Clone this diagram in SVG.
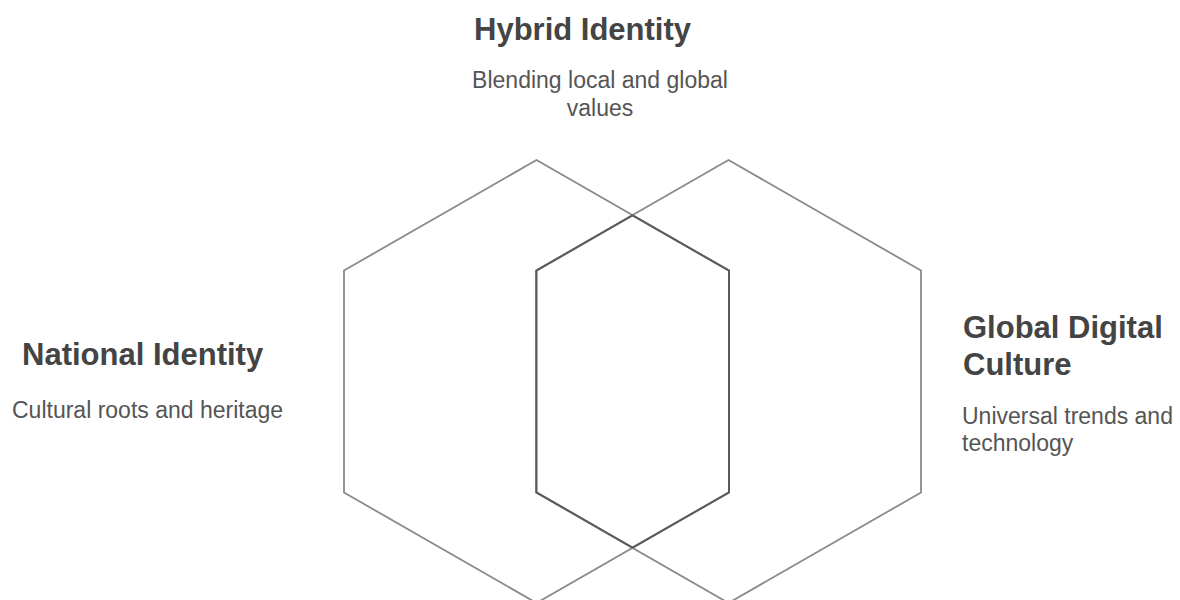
<svg xmlns="http://www.w3.org/2000/svg" width="1180" height="600" viewBox="0 0 1180 600">
<style>
.hex{fill:none;stroke:#8a8a8a;stroke-width:1.8;stroke-linejoin:miter}
.inter{fill:none;stroke:#5a5a5a;stroke-width:2}
.title{font-family:"Liberation Sans",Arial,sans-serif;font-weight:bold;font-size:31px;fill:#444}
.desc{font-family:"Liberation Sans",Arial,sans-serif;font-size:23px;fill:#555}
</style>
<rect width="1180" height="600" fill="#fff"/>
<g id="national-hex"><polygon class="hex" points="536.5,160 729,270.5 729,492.5 536.5,603 344,492.5 344,270.5"/></g>
<g id="global-hex"><polygon class="hex" points="728.5,160 921,270.5 921,492.5 728.5,603 536,492.5 536,270.5"/></g>
<g id="hybrid-region"><polygon class="inter" points="632.5,215.3 729,270.7 729,492.3 632.5,547.7 536.5,492.3 536.5,270.7"/></g>
<g id="hybrid-label">
<text class="title" x="474" y="40">Hybrid Identity</text>
<text class="desc" x="600" y="88" text-anchor="middle">Blending local and global</text>
<text class="desc" x="600" y="116" text-anchor="middle">values</text>
</g>
<g id="national-label">
<text class="title" x="22" y="365">National Identity</text>
<text class="desc" x="12" y="418">Cultural roots and heritage</text>
</g>
<g id="global-label">
<text class="title" x="963" y="338">Global Digital</text>
<text class="title" x="963" y="375">Culture</text>
<text class="desc" x="962" y="424">Universal trends and</text>
<text class="desc" x="962" y="451">technology</text>
</g>
<g id="connectors"></g>
</svg>
